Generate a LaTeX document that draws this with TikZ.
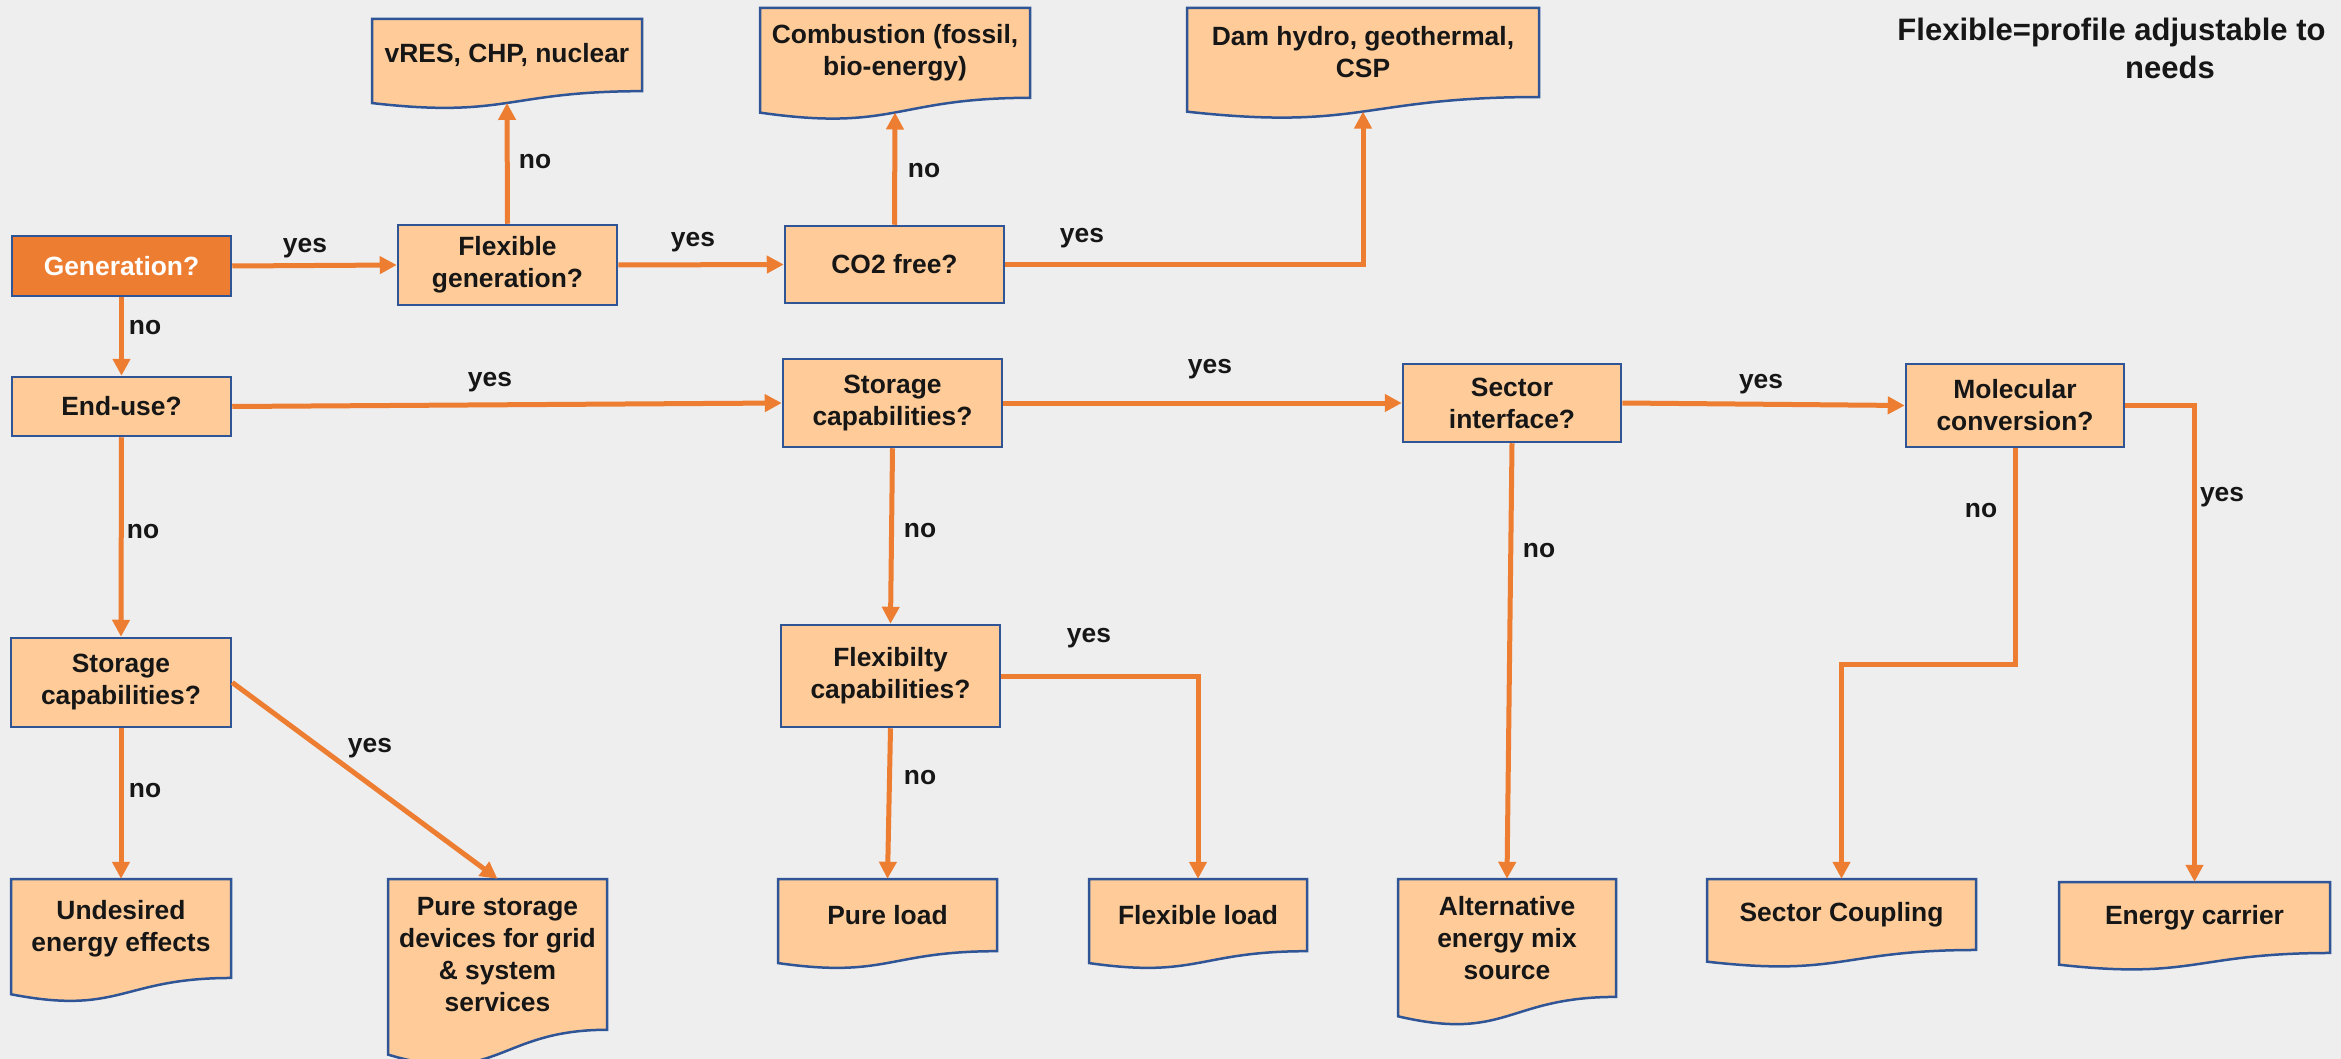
\documentclass[tikz,border=0pt]{standalone}
\usepackage{fontspec}
\setmainfont{Liberation Sans}
\usetikzlibrary{arrows.meta,calc}
\definecolor{boxfill}{HTML}{FFCC99}
\definecolor{boxline}{HTML}{2F5597}
\definecolor{arr}{HTML}{ED7D31}
\definecolor{bgc}{HTML}{EEEEEE}
\definecolor{txt}{HTML}{161616}
\newcommand\txtfont{\bfseries\fontsize{26.4}{32}\selectfont}
\tikzset{
  qbox/.style={draw=boxline, line width=2.5pt, fill=boxfill, inner sep=0pt, align=center, text=txt, font=\txtfont},
  docout/.style={draw=boxline, line width=2.5pt, fill=boxfill},
  doctext/.style={inner sep=0pt, align=center, text=txt, font=\txtfont},
  flow/.style={draw=arr, line width=5pt, -{Triangle[length=17pt,width=17pt]}},
  lbl/.style={font=\txtfont, text=txt, anchor=base, inner sep=0pt},
  notestyle/.style={font=\bfseries\fontsize{31}{38}\selectfont, text=txt, anchor=base, inner sep=0pt},
}
\newcommand\qnode[7][]{%
  \pgfmathsetmacro\qw{#5-#3}\pgfmathsetmacro\qh{#6-#4}%
  \pgfmathsetmacro\qx{(#3+#5)/2}\pgfmathsetmacro\qy{(#4+#6)/2}%
  \node[qbox,minimum width=\qw pt,minimum height=\qh pt,#1] (#2) at (\qx,\qy) {#7};}
\newcommand\dnode[6]{%
  \pgfmathsetmacro\dw{#4-#2}\pgfmathsetmacro\dcx{(#2+#4)/2}%
  \pgfmathsetmacro\dyr{#3+0.802*#5}\pgfmathsetmacro\dyc{#3+1.1075*#5}\pgfmathsetmacro\dyl{#3+0.934*#5}%
  \pgfmathsetmacro\dty{#3+0.401*#5}\pgfmathsetmacro\dth{0.802*#5}\pgfmathsetmacro\dyb{#3+0.933*#5}%
  \path[docout] (#2,#3) -- (#4,#3) -- (#4,\dyr) .. controls (\dcx,\dyr) and (\dcx,\dyc) .. (#2,\dyl) -- cycle;
  \node[doctext,minimum width=\dw pt,minimum height=\dth pt] (#1) at (\dcx,\dty) {#6};
  \coordinate (#1-bot) at (\dcx,\dyb);}
\begin{document}
\begin{tikzpicture}[x=1pt,y=-1pt]
\useasboundingbox (0,0) rectangle (2341,1059);
\clip (0,0) rectangle (2341,1059);
\fill[bgc] (0,0) rectangle (2341,1059);

% decision boxes
\qnode[fill=arr,text=white]{gen}{12}{236}{231}{296}{Generation?}
\qnode{enduse}{12}{377}{231}{436}{End-use?}
\qnode{flexgen}{398}{225}{617}{305}{Flexible\\generation?}
\qnode{co2}{785}{226}{1004}{303}{CO2 free?}
\qnode{stor1}{783}{359}{1002}{447}{Storage\\capabilities?}
\qnode{sector}{1403}{364}{1621}{442}{Sector\\interface?}
\qnode{molec}{1906}{364}{2124}{447}{Molecular\\conversion?}
\qnode{stor2}{11}{638}{231}{727}{Storage\\capabilities?}
\qnode{flexcap}{781}{625}{1000}{727}{Flexibilty\\capabilities?}

% document outcomes
\dnode{vres}{372}{19}{642}{90}{vRES, CHP, nuclear}
\dnode{comb}{760}{8}{1030}{112}{Combustion (fossil,\\bio-energy)}
\dnode{dam}{1187}{8}{1539}{111}{Dam hydro, geothermal,\\CSP}
\dnode{undes}{11}{879}{231}{123.4}{Undesired\\energy effects}
\dnode{pstor}{388}{879}{607}{188}{Pure storage\\devices for grid\\\&{} system\\services}
\dnode{pload}{778}{879}{997}{90}{Pure load}
\dnode{fload}{1089}{879}{1307}{90}{Flexible load}
\dnode{alt}{1398}{879}{1616}{147}{Alternative\\energy mix\\source}
\dnode{scoup}{1707}{879}{1976}{88.5}{Sector Coupling}
\dnode{ecar}{2059}{882}{2330}{88.5}{Energy carrier}

% connectors
\draw[flow] (gen.east) -- (flexgen.west);
\draw[flow] (gen.south) -- (enduse.north);
\draw[flow] (flexgen.north) -- (vres-bot);
\draw[flow] (flexgen.east) -- (co2.west);
\draw[flow] (co2.north) -- (comb-bot);
\draw[flow] (co2.east) -| (dam-bot);
\draw[flow] (enduse.east) -- (stor1.west);
\draw[flow] (enduse.south) -- (stor2.north);
\draw[flow] (stor2.south) -- (undes.north);
\draw[flow] (stor2.east) -- (pstor.north);
\draw[flow] (stor1.east) -- (sector.west);
\draw[flow] (stor1.south) -- (flexcap.north);
\draw[flow] (flexcap.south) -- (pload.north);
\draw[flow] (flexcap.east) -| (fload.north);
\draw[flow] (sector.east) -- (molec.west);
\draw[flow] (sector.south) -- (alt.north);
\draw[flow] (molec.east) -| (ecar.north);
\draw[flow] (molec.south) -- ++(0,216) -| (scoup.north);

% labels
\node[lbl] (l1) at (305,253) {yes};
\node[lbl] (l2) at (145,334) {no};
\node[lbl] (l3) at (535,169) {no};
\node[lbl] (l4) at (693,247) {yes};
\node[lbl] (l5) at (924,178) {no};
\node[lbl] (l6) at (1082,243) {yes};
\node[lbl] (l7) at (490,386) {yes};
\node[lbl] (l8) at (1210,373) {yes};
\node[lbl] (l9) at (1761,388) {yes};
\node[lbl] (l10) at (2222,501) {yes};
\node[lbl] (l11) at (1981,517) {no};
\node[lbl] (l12) at (1539,557) {no};
\node[lbl] (l13) at (143,538) {no};
\node[lbl] (l14) at (145,797) {no};
\node[lbl] (l15) at (370,752) {yes};
\node[lbl] (l16) at (920,537) {no};
\node[lbl] (l17) at (920,784) {no};
\node[lbl] (l18) at (1089,642) {yes};

% note
\node[notestyle] (note1) at (2111.5,41) {Flexible=profile adjustable to};
\node[notestyle] (note2) at (2170,79) {needs};
\end{tikzpicture}
\end{document}
